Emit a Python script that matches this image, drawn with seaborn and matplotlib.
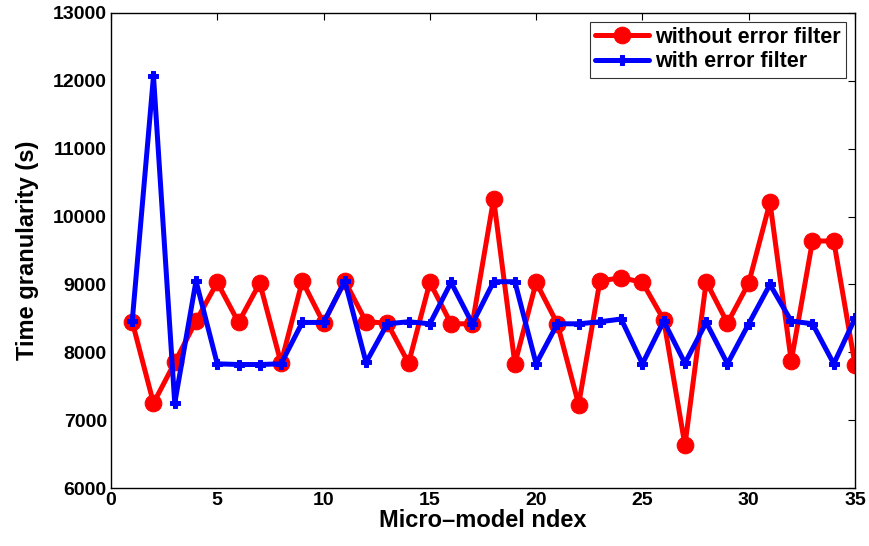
import matplotlib
matplotlib.use("Agg")
import matplotlib.pyplot as plt
import seaborn as sns
import pandas as pd
import numpy as np

idx = list(range(1, 36))
without_filter = [8450, 7250, 7850, 8460, 9030, 8440, 9020, 7840, 9050, 8430,
                  9050, 8450, 8430, 7840, 9030, 8420, 8420, 10260, 7830, 9030,
                  8420, 7230, 9050, 9100, 9030, 8480, 6630, 9040, 8430, 9020,
                  10210, 7870, 9640, 9640, 7820]
with_filter = [8460, 12070, 7250, 9050, 7830, 7820, 7820, 7830, 8440, 8440,
               9050, 7850, 8420, 8450, 8420, 9030, 8420, 9040, 9040, 7830,
               8420, 8420, 8450, 8490, 7830, 8460, 7840, 8440, 7830, 8420,
               9000, 8460, 8420, 7830, 8500]
labels = ["without error filter", "with error filter"]

df = pd.concat([
    pd.DataFrame({"idx": idx, "val": without_filter, "series": labels[0]}),
    pd.DataFrame({"idx": idx, "val": with_filter, "series": labels[1]}),
])

sns.set_style("white")
plt.rcParams['font.family'] = ['Liberation Sans', 'DejaVu Sans']
plt.rcParams['font.weight'] = 'bold'
plt.rcParams['text.color'] = 'black'
plt.rcParams['axes.labelcolor'] = 'black'
plt.rcParams['xtick.color'] = 'black'
plt.rcParams['ytick.color'] = 'black'

fig = plt.figure(figsize=(8.69, 5.46), dpi=100)
ax = fig.add_axes([0.1277, 0.1062, 0.8562, 0.8700])

sns.lineplot(data=df[df.series == labels[0]], x="idx", y="val", ax=ax,
             color="#ff0000", lw=3.6, marker="o", markersize=12,
             markeredgecolor="#ff0000", label=labels[0], sort=False)
sns.lineplot(data=df[df.series == labels[1]], x="idx", y="val", ax=ax,
             color="#0000ff", lw=3.6, marker="P", markersize=6.5,
             markeredgecolor="#0000ff", label=labels[1], sort=False)

ax.set_xlim(0, 35)
ax.set_ylim(6000, 13000)
ax.set_xticks(range(0, 36, 5))
ax.set_yticks(range(6000, 13001, 1000))
ax.tick_params(direction="in", top=True, right=True, length=5, width=0.8,
               labelsize=14, colors="black", pad=3)
for lab in ax.get_xticklabels() + ax.get_yticklabels():
    lab.set_fontweight("bold")
    lab.set_color("black")
for s in ax.spines.values():
    s.set_color("black")
    s.set_linewidth(1.0)

ax.set_xlabel("Micro\u2013model ndex", fontsize=17, fontweight="bold",
              labelpad=0, color="black")
ax.set_ylabel("Time granularity (s)", fontsize=17, fontweight="bold",
              labelpad=10, color="black")

leg = ax.legend(loc="upper right", frameon=True, fancybox=False,
                edgecolor="black", handlelength=2.5, borderaxespad=0.4,
                borderpad=0.25, labelspacing=0.15, handletextpad=0.3,
                prop={"weight": "bold", "size": 15.5})
leg.get_frame().set_linewidth(0.8)
for t in leg.get_texts():
    t.set_color("black")

fig.savefig("out.png", dpi=100)
